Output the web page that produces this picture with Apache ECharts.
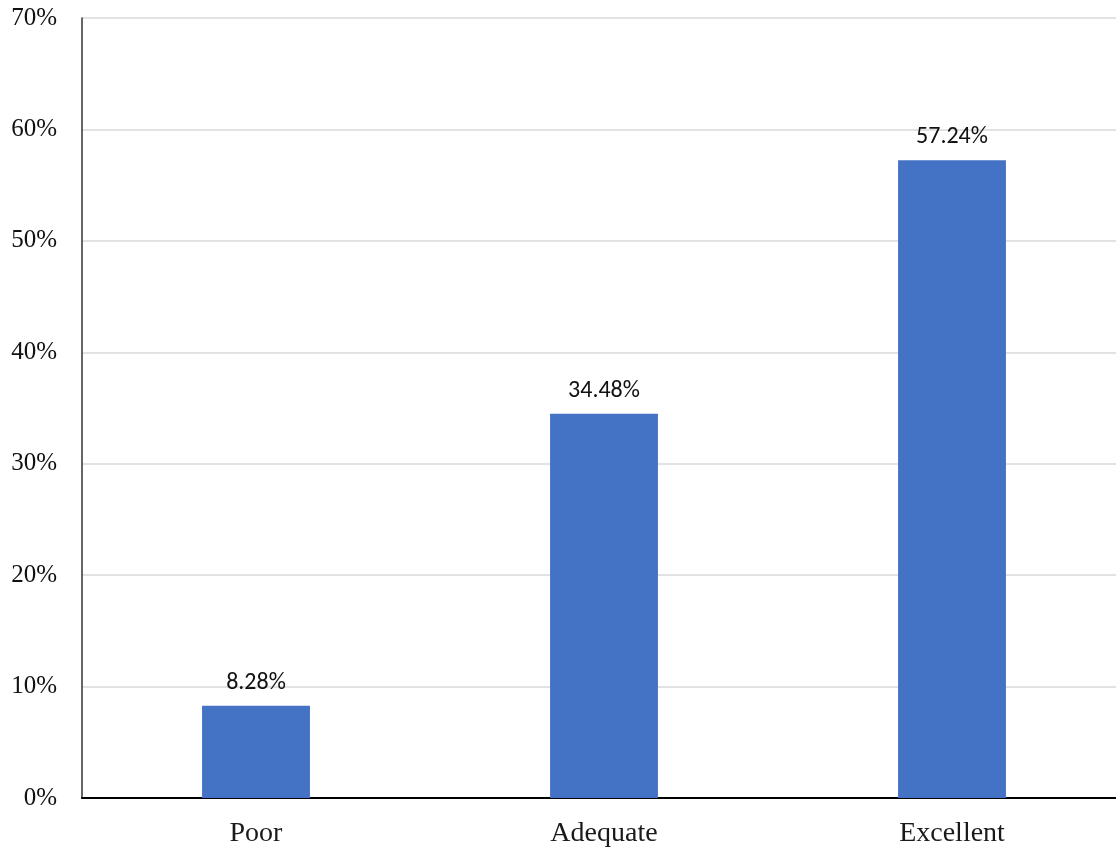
<!DOCTYPE html>
<html>
<head>
<meta charset="utf-8">
<script src="https://cdn.jsdelivr.net/npm/echarts@6/dist/echarts.min.js"></script>
<style>html,body{margin:0;padding:0;background:#fff;overflow:hidden;}#c{width:1116px;height:850px;}</style>
</head>
<body>
<div id="c"></div>
<script>
const categories = ['Poor', 'Adequate', 'Excellent'];
const values = [8.28, 34.48, 57.24];
const yTicks = [0, 10, 20, 30, 40, 50, 60, 70];

const chart = echarts.init(document.getElementById('c'), null, {renderer: 'canvas'});
chart.setOption({
  animation: false,
  backgroundColor: '#ffffff',
  grid: {left: 82, width: 1044, top: 18, bottom: 52, containLabel: false, outerBoundsMode: 'none'},
  xAxis: {
    type: 'category',
    data: categories,
    axisLine: {show: true, lineStyle: {color: '#000', width: 2}},
    axisTick: {show: false},
    axisLabel: {fontFamily: '"Liberation Serif", "DejaVu Serif", serif', fontSize: 28, color: '#1a1a1a', margin: 22}
  },
  yAxis: {
    type: 'value',
    min: yTicks[0],
    max: yTicks[yTicks.length - 1],
    interval: 10,
    axisLine: {show: true, lineStyle: {color: '#333', width: 1.5}},
    axisTick: {show: false},
    splitLine: {lineStyle: {color: '#d9d9d9', width: 1.5}},
    axisLabel: {
      fontFamily: '"Liberation Serif", "DejaVu Serif", serif', fontSize: 25, color: '#111', margin: 25,
      formatter: v => v + '%'
    }
  },
  series: [{
    type: 'bar',
    data: values,
    barWidth: '31%',
    itemStyle: {color: '#4472C4'},
    label: {
      show: true, position: 'top', distance: 11,
      fontFamily: 'Carlito, "Open Sans", "Noto Sans", sans-serif', fontSize: 24, color: '#111',
      formatter: p => p.value.toFixed(2) + '%'
    }
  }]
});
</script>
</body>
</html>
